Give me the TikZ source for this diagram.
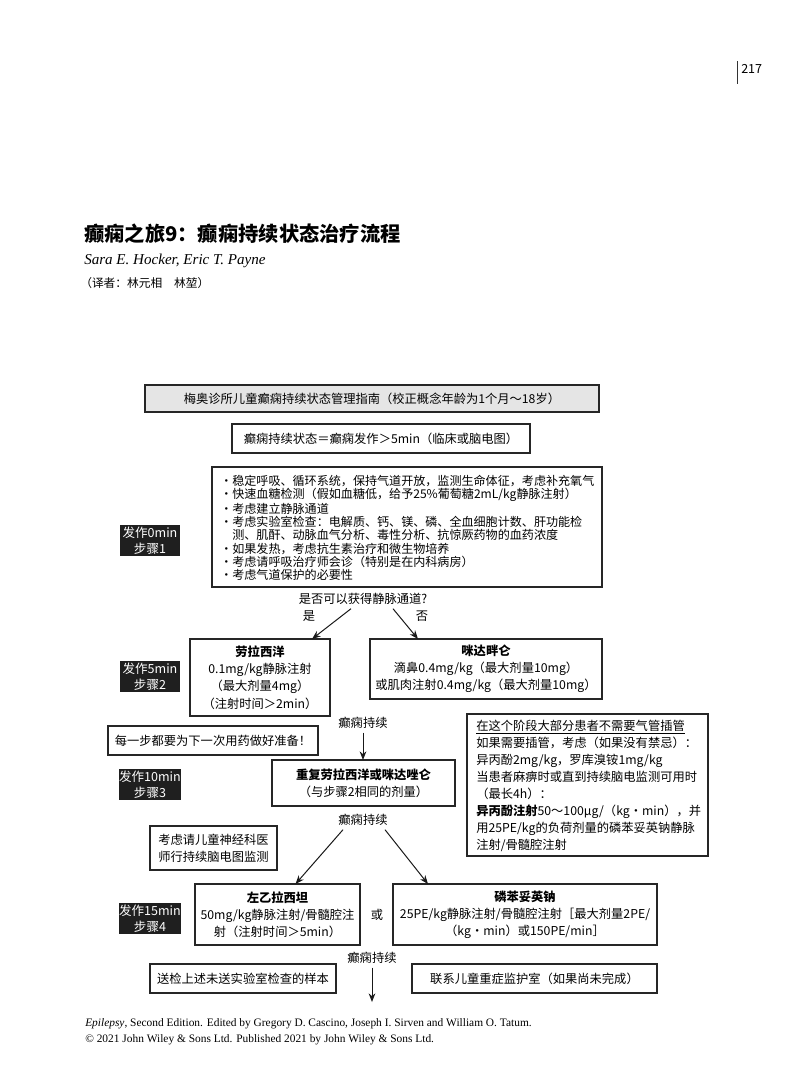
\documentclass[tikz,border=0pt]{standalone}
\usepackage{fontspec}
\setmainfont{Noto Sans CJK SC}
\newfontfamily\serifmain{Liberation Serif}
\usetikzlibrary{arrows.meta,fit,calc}
\begin{document}
\begin{tikzpicture}[x=0.75pt,y=-0.75pt,
  box/.style={draw=black!85, line width=0.8pt, inner sep=0pt, outer sep=0pt},
  txt/.style={font=\fontsize{9.2}{12.6}\selectfont, align=center, inner sep=0pt},
  lbl/.style={inner sep=0pt, outer sep=3pt, font=\fontsize{9.2}{12}\selectfont},
  stage/.style={fill=black!88, draw=none, inner sep=0pt, outer sep=0pt},
  stagetxt/.style={text=white, inner sep=0pt, align=center, font=\fontsize{9.4}{11.6}\selectfont},
  arr/.style={-{Stealth[length=6.5pt,width=5pt]}, line width=0.75pt, draw=black!90},
]
\useasboundingbox (0,0) rectangle (800,1086);

% header
\draw[line width=0.6pt, black!80] (737,61) -- (737,84);
\node[anchor=west, inner sep=0pt, font=\fontsize{9.4}{9}\selectfont] (pn) at (741,69) {217};
\node[anchor=west, inner sep=0pt, font=\fontsize{15.2}{15}\selectfont\bfseries] (title) at (84,234) {癫痫之旅9：癫痫持续状态治疗流程};
\node[anchor=west, inner sep=0pt, font=\serifmain\itshape\fontsize{11.3}{12}\selectfont] (auth) at (84,261) {Sara E. Hocker, Eric T. Payne};
\node[anchor=west, inner sep=0pt, font=\fontsize{8.8}{9}\selectfont] (trans) at (80,283) {（译者：林元相　林堃）};

% step 0
\node[box, fill=black!10, fit={(145,385) (599,412)}] (b1) {};
\node[txt] (b1t) at (b1.center) {梅奥诊所儿童癫痫持续状态管理指南（校正概念年龄为1个月～18岁）};
\node[box, fit={(232,424) (530,453)}] (b2) {};
\node[txt] (b2t) at (b2.center) {癫痫持续状态＝癫痫发作＞5min（临床或脑电图）};

\node[box, fit={(212,467) (602,587)}] (b3) {};
\node[txt, align=left, anchor=west, font=\fontsize{9.05}{9.9}\selectfont] (b3t) at (220,528) {・稳定呼吸、循环系统，保持气道开放，监测生命体征，考虑补充氧气\\
・快速血糖检测（假如血糖低，给予25\%葡萄糖2mL/kg静脉注射）\\
・考虑建立静脉通道\\
・考虑实验室检查：电解质、钙、镁、磷、全血细胞计数、肝功能检\\
\phantom{・}测、肌酐、动脉血气分析、毒性分析、抗惊厥药物的血药浓度\\
・如果发热，考虑抗生素治疗和微生物培养\\
・考虑请呼吸治疗师会诊（特别是在内科病房）\\
・考虑气道保护的必要性};
\node[stage, fit={(120,525) (180,556)}] (s1) {};
\node[stagetxt] (s1t) at (s1.center) {发作0min\\步骤1};

\node[lbl] (q) at (363,599) {是否可以获得静脉通道?};
\node[lbl] (yes) at (309,616) {是};
\node[lbl] (no) at (422,616) {否};

% step 2
\node[box, fit={(190,639) (330,716)}] (b4) {};
\node[txt, font=\fontsize{9.2}{12.9}\selectfont] (b4t) at (b4.center) {{\bfseries 劳拉西洋}\\0.1mg/kg静脉注射\\（最大剂量4mg）\\（注射时间＞2min）};
\node[box, fit={(370,639) (602,699)}] (b5) {};
\node[txt, font=\fontsize{9.2}{12.9}\selectfont] (b5t) at (b5.center) {{\bfseries 咪达畔仑}\\滴鼻0.4mg/kg（最大剂量10mg）\\或肌肉注射0.4mg/kg（最大剂量10mg）};
\node[stage, fit={(120,661) (180,692)}] (s2) {};
\node[stagetxt] (s2t) at (s2.center) {发作5min\\步骤2};

\draw[arr] ($(q.south)+(-12,0)$) -- ($(b4.north)+(52,0)$);
\draw[arr] ($(q.south)+(30,0)$) -- ($(b5.north)+(-68,0)$);

\node[lbl] (c1) at (363,723) {癫痫持续};
\node[box, fit={(108,726) (318,755)}] (b6) {};
\node[txt] (b6t) at (b6.center) {每一步都要为下一次用药做好准备！};
\node[box, fit={(467,714) (708,856)}] (b7) {};
\node[txt, align=left, anchor=west, font=\fontsize{9.2}{12.8}\selectfont] (b7t) at (476,786) {\underline{在这个阶段大部分患者不需要气管插管}\\
如果需要插管，考虑（如果没有禁忌）：\\
异丙酚2mg/kg，罗库溴铵1mg/kg\\
当患者麻痹时或直到持续脑电监测可用时\\
（最长4h）：\\
{\bfseries 异丙酚注射}50～100μg/（kg・min），并\\
用25PE/kg的负荷剂量的磷苯妥英钠静脉\\
注射/骨髓腔注射};

% step 3
\node[box, fit={(272,760) (455,806)}] (b8) {};
\node[txt] (b8t) at (b8.center) {{\bfseries 重复劳拉西洋或咪达唑仑}\\（与步骤2相同的剂量）};
\node[stage, fit={(119,769) (181,800)}] (s3) {};
\node[stagetxt] (s3t) at (s3.center) {发作10min\\步骤3};
\draw[arr] (c1) -- (c1 |- b8.north);

\node[lbl] (c2) at (363,820) {癫痫持续};
\node[box, fit={(150,826) (277,870)}] (b9) {};
\node[txt] (b9t) at (b9.center) {考虑请儿童神经科医\\师行持续脑电图监测};

% step 4
\node[box, fit={(195,884) (360,945)}] (b10) {};
\node[txt] (b10t) at (b10.center) {{\bfseries 左乙拉西坦}\\50mg/kg静脉注射/骨髓腔注\\射（注射时间＞5min）};
\node[lbl] (or) at (377,915) {或};
\node[box, fit={(393,884) (657,945)}] (b11) {};
\node[txt] (b11t) at (b11.center) {{\bfseries 磷苯妥英钠}\\25PE/kg静脉注射/骨髓腔注射［最大剂量2PE/\\（kg・min）或150PE/min］};
\node[stage, fit={(119,903) (181,934)}] (s4) {};
\node[stagetxt] (s4t) at (s4.center) {发作15min\\步骤4};

\draw[arr] ($(c2.south)+(-20,0)$) -- ($(b10.north)+(18,0)$);
\draw[arr] ($(c2.south)+(22,0)$) -- ($(b11.north)+(-97,0)$);

\node[lbl] (c3) at (372,958) {癫痫持续};
\node[box, fit={(150,964) (336,993)}] (b12) {};
\node[txt] (b12t) at (b12.center) {送检上述未送实验室检查的样本};
\node[box, fit={(412,964) (657,993)}] (b13) {};
\node[txt] (b13t) at (b13.center) {联系儿童重症监护室（如果尚未完成）};
\coordinate (end) at (372,1002);
\draw[arr] (c3) -- (end);

% footer
\node[anchor=north west, inner sep=0pt, align=left, font=\serifmain\fontsize{8.55}{12}\selectfont] (foot) at (85,1018) {\textit{Epilepsy}, Second Edition. Edited by Gregory D. Cascino, Joseph I. Sirven and William O. Tatum.\\
© 2021 John Wiley \& Sons Ltd. Published 2021 by John Wiley \& Sons Ltd.};
\end{tikzpicture}
\end{document}
